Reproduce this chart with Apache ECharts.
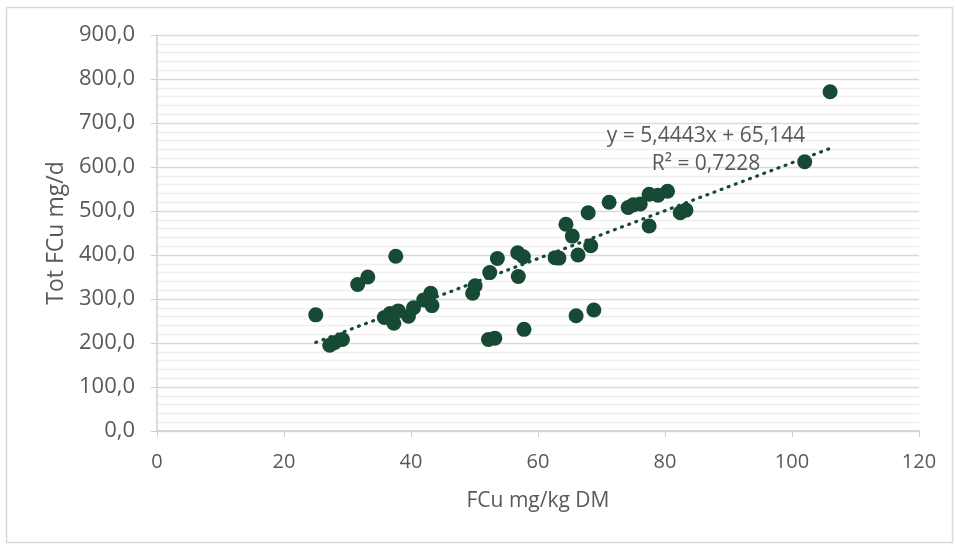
<!DOCTYPE html>
<html>
<head>
<meta charset="utf-8">
<title>FCu scatter</title>
<script src="https://cdn.jsdelivr.net/npm/echarts@6/dist/echarts.min.js"></script>
<style>
    html, body { margin: 0; padding: 0; background: #fff; }
    #chartContainer { width: 955px; height: 545px; }
</style>
</head>
<body>
<div id="chartContainer"></div>
<script>
// ============================================================
// Data
// ============================================================
const fcuDM = [
    25.0, 27.2, 28.0, 29.2, 31.6, 33.2, 37.6, 35.8, 36.7, 37.3,
    38.0, 39.6, 40.4, 42.0, 43.1, 43.3, 49.7, 50.1, 52.4, 53.6,
    56.8, 57.7, 56.9, 52.2, 53.2, 57.8, 62.7, 63.3, 64.4, 65.4,
    66.3, 68.3, 67.9, 71.2, 74.2, 75.0, 76.1, 77.5, 78.9, 80.4,
    77.5, 82.4, 83.3, 66.0, 68.8, 102.0, 106.0
];
const totFCu = [
    264, 195, 201, 208, 333, 350, 397, 258, 267, 245,
    273, 261, 280, 298, 313, 285, 313, 330, 360, 392,
    405, 396, 351, 208, 211, 231, 394, 393, 470, 443,
    400, 421, 496, 520, 508, 514, 516, 538, 536, 545,
    466, 496, 502, 262, 275, 612, 771
];

// linear trendline as reported on the chart
const trendSlope = 5.4443;
const trendIntercept = 65.144;
const trendLabel = ['y = 5,4443x + 65,144', 'R² = 0,7228'];

const xTicks = { min: 0, max: 120, interval: 20 };
const yTicks = { min: 0, max: 900, interval: 100 };

const markerColor = '#174a35';
const textColor = '#595959';
const fontName = '"Open Sans", sans-serif';

// ============================================================
// Build series data
// ============================================================
const points = fcuDM.map(function(x, i) { return [x, totFCu[i]]; });
const xLo = Math.min.apply(null, fcuDM);
const xHi = Math.max.apply(null, fcuDM);
const trendPoints = [xLo, xHi].map(function(x) {
    return [x, trendSlope * x + trendIntercept];
});

// ============================================================
// Chart
// ============================================================
const myChart = echarts.init(document.getElementById('chartContainer'));

const option = {
    animation: false,
    grid: { left: 157, right: 36, top: 35, bottom: 114 },
    xAxis: {
        type: 'value',
        min: xTicks.min,
        max: xTicks.max,
        interval: xTicks.interval,
        name: 'FCu mg/kg DM',
        nameLocation: 'middle',
        nameGap: 60,
        nameTextStyle: { color: textColor, fontSize: 21, fontFamily: fontName },
        axisLine: { lineStyle: { color: '#d0d0d0', width: 1.5 } },
        axisTick: { show: true, length: 6, lineStyle: { color: '#d0d0d0' } },
        axisLabel: { color: textColor, fontSize: 20, margin: 21, fontFamily: fontName },
        splitLine: { show: false }
    },
    yAxis: {
        type: 'value',
        min: yTicks.min,
        max: yTicks.max,
        interval: yTicks.interval,
        name: 'Tot FCu mg/d',
        nameLocation: 'middle',
        nameGap: 86,
        nameTextStyle: { color: textColor, fontSize: 23, fontFamily: fontName },
        axisLine: { show: true, lineStyle: { color: '#d0d0d0', width: 1.5 } },
        axisTick: { show: true, inside: false, length: 6, lineStyle: { color: '#d0d0d0' } },
        axisLabel: {
            color: textColor,
            fontSize: 22,
            margin: 22,
            fontFamily: fontName,
            formatter: function(v) { return v.toFixed(1).replace('.', ','); }
        },
        splitLine: { show: true, lineStyle: { color: '#d9d9d9', width: 1.3 } },
        minorTick: { show: false, splitNumber: 5 },
        minorSplitLine: { show: true, lineStyle: { color: '#efefef', width: 1.3 } }
    },
    series: [
        {
            name: 'data',
            type: 'scatter',
            data: points,
            symbol: 'circle',
            symbolSize: 15,
            itemStyle: { color: markerColor, opacity: 1 },
            z: 2
        },
        {
            name: 'trend',
            type: 'line',
            data: trendPoints,
            showSymbol: false,
            silent: true,
            lineStyle: { color: markerColor, width: 3.2, type: [1, 6.6], cap: 'round' },
            z: 3
        }
    ],
    graphic: [
        {
            type: 'rect',
            left: 4, top: 5,
            shape: { width: 946, height: 535 },
            style: { fill: 'none', stroke: '#d9d9d9', lineWidth: 1.5 },
            silent: true
        },
        {
            type: 'text',
            x: 706, y: 150,
            style: {
                text: trendLabel.join('\n'),
                fill: textColor,
                font: '21px "Open Sans", sans-serif',
                align: 'center',
                verticalAlign: 'middle',
                lineHeight: 28
            },
            z: 10
        }
    ]
};

myChart.setOption(option);
</script>
</body>
</html>
